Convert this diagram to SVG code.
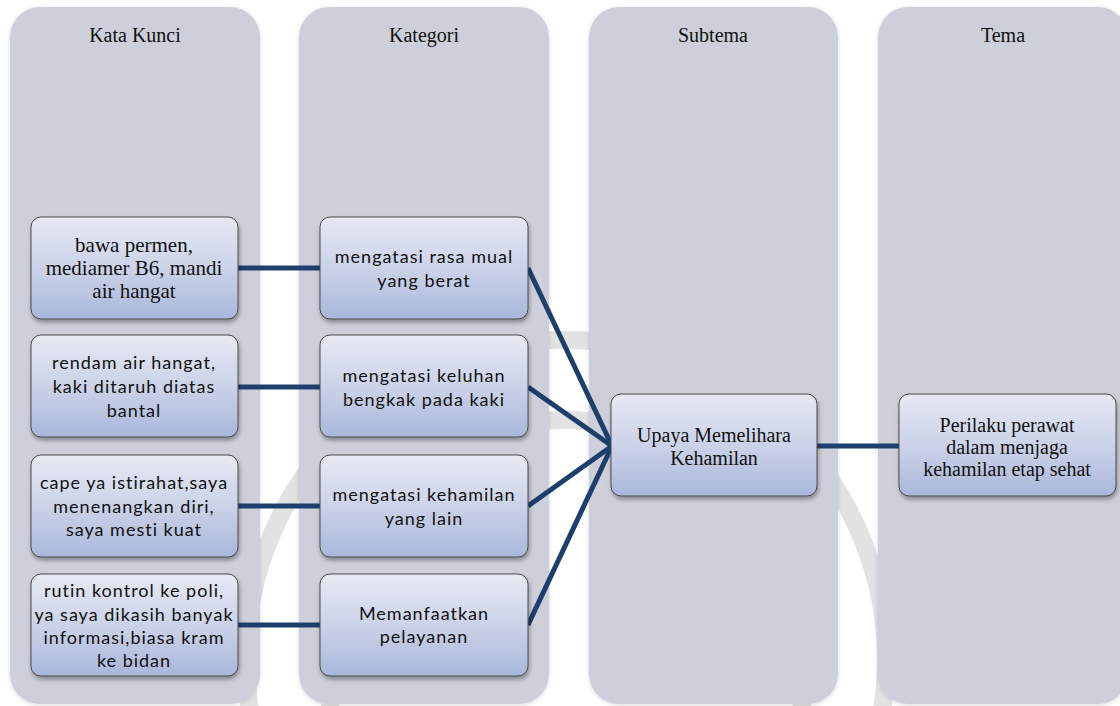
<svg xmlns="http://www.w3.org/2000/svg" width="1120" height="706" viewBox="0 0 1120 706">
<defs>
<linearGradient id="bg" x1="0" y1="0" x2="0" y2="1">
<stop offset="0" stop-color="#E6E9F4"/>
<stop offset="0.5" stop-color="#CCD3E8"/>
<stop offset="1" stop-color="#A9B7DB"/>
</linearGradient>
<filter id="sh" x="-10%" y="-10%" width="130%" height="140%">
<feDropShadow dx="1" dy="3" stdDeviation="2" flood-color="#000" flood-opacity="0.35"/>
</filter>
<filter id="csh" x="-5%" y="-5%" width="110%" height="110%">
<feDropShadow dx="0" dy="1" stdDeviation="2" flood-color="#000" flood-opacity="0.15"/>
</filter>
</defs>
<style>
.col{fill:#CDD0DA;}
.box{fill:url(#bg);stroke:#4A4A4A;stroke-width:1;filter:url(#sh);}
.hdr{font-family:"Liberation Serif",serif;font-size:20px;fill:#111;text-anchor:middle;}
.tr{font-family:"Liberation Serif",serif;font-size:21px;fill:#111;text-anchor:middle;}
.sa{font-family:Lato,"Open Sans",sans-serif;font-size:18px;fill:#111;text-anchor:middle;letter-spacing:1px;}
.con{stroke:#1E3F6C;stroke-width:5;fill:none;stroke-linecap:butt;}
.wm{fill:none;stroke:#E2E2E2;stroke-width:18;}
</style>
<rect width="1120" height="706" fill="#FFFFFF"/>
<g id="watermark">
<circle class="wm" cx="566" cy="660" r="320"/>
<circle class="wm" cx="566" cy="660" r="240"/>
</g>
<g id="columns">
<rect class="col" x="10" y="7" width="250" height="697" rx="30" filter="url(#csh)"/>
<rect class="col" x="299" y="7" width="250" height="697" rx="30" filter="url(#csh)"/>
<rect class="col" x="589" y="7" width="249" height="697" rx="30" filter="url(#csh)"/>
<rect class="col" x="878" y="7" width="250" height="697" rx="30" filter="url(#csh)"/>
<text class="hdr" x="135" y="42">Kata Kunci</text>
<text class="hdr" x="424" y="42">Kategori</text>
<text class="hdr" x="713" y="42">Subtema</text>
<text class="hdr" x="1003" y="42">Tema</text>
</g>
<g id="connectors">
<path class="con" d="M238 268 H320"/>
<path class="con" d="M238 387 H320"/>
<path class="con" d="M238 506 H320"/>
<path class="con" d="M238 625 H320"/>
<path class="con" d="M528 268 L612 446"/>
<path class="con" d="M528 387 L612 446"/>
<path class="con" d="M528 506 L612 446"/>
<path class="con" d="M528 625 L612 446"/>
<path class="con" d="M817 446 H899"/>
</g>
<g id="k1">
<rect class="box" x="31" y="217" width="207" height="102" rx="10"/>
<text class="tr" x="134" y="252">bawa permen,</text>
<text class="tr" x="134" y="275">mediamer B6, mandi</text>
<text class="tr" x="134" y="298">air hangat</text>
</g>
<g id="k2">
<rect class="box" x="31" y="335" width="207" height="102" rx="10"/>
<text class="sa" x="134" y="369">rendam air hangat,</text>
<text class="sa" x="134" y="393">kaki ditaruh diatas</text>
<text class="sa" x="134" y="417">bantal</text>
</g>
<g id="k3">
<rect class="box" x="31" y="455" width="207" height="102" rx="10"/>
<text class="sa" x="134" y="489">cape ya istirahat,saya</text>
<text class="sa" x="134" y="513">menenangkan diri,</text>
<text class="sa" x="134" y="536">saya mesti kuat</text>
</g>
<g id="k4">
<rect class="box" x="31" y="574" width="207" height="102" rx="10"/>
<text class="sa" x="134" y="597">rutin kontrol ke poli,</text>
<text class="sa" x="134" y="621">ya saya dikasih banyak</text>
<text class="sa" x="134" y="644">informasi,biasa kram</text>
<text class="sa" x="134" y="667">ke bidan</text>
</g>
<g id="c1">
<rect class="box" x="320" y="217" width="208" height="102" rx="10"/>
<text class="sa" x="424" y="263">mengatasi rasa mual</text>
<text class="sa" x="424" y="287">yang berat</text>
</g>
<g id="c2">
<rect class="box" x="320" y="335" width="208" height="102" rx="10"/>
<text class="sa" x="424" y="382">mengatasi keluhan</text>
<text class="sa" x="424" y="406">bengkak pada kaki</text>
</g>
<g id="c3">
<rect class="box" x="320" y="455" width="208" height="102" rx="10"/>
<text class="sa" x="424" y="501">mengatasi kehamilan</text>
<text class="sa" x="424" y="525">yang lain</text>
</g>
<g id="c4">
<rect class="box" x="320" y="574" width="208" height="102" rx="10"/>
<text class="sa" x="424" y="620">Memanfaatkan</text>
<text class="sa" x="424" y="643">pelayanan</text>
</g>
<g id="subtema">
<rect class="box" x="611" y="394" width="206" height="102" rx="10"/>
<text class="hdr" x="714" y="442">Upaya Memelihara</text>
<text class="hdr" x="714" y="465">Kehamilan</text>
</g>
<g id="tema">
<rect class="box" x="899" y="394" width="217" height="102" rx="10"/>
<text class="hdr" x="1007" y="432">Perilaku perawat</text>
<text class="hdr" x="1007" y="454">dalam menjaga</text>
<text class="hdr" x="1007" y="476">kehamilan etap sehat</text>
</g>
</svg>
